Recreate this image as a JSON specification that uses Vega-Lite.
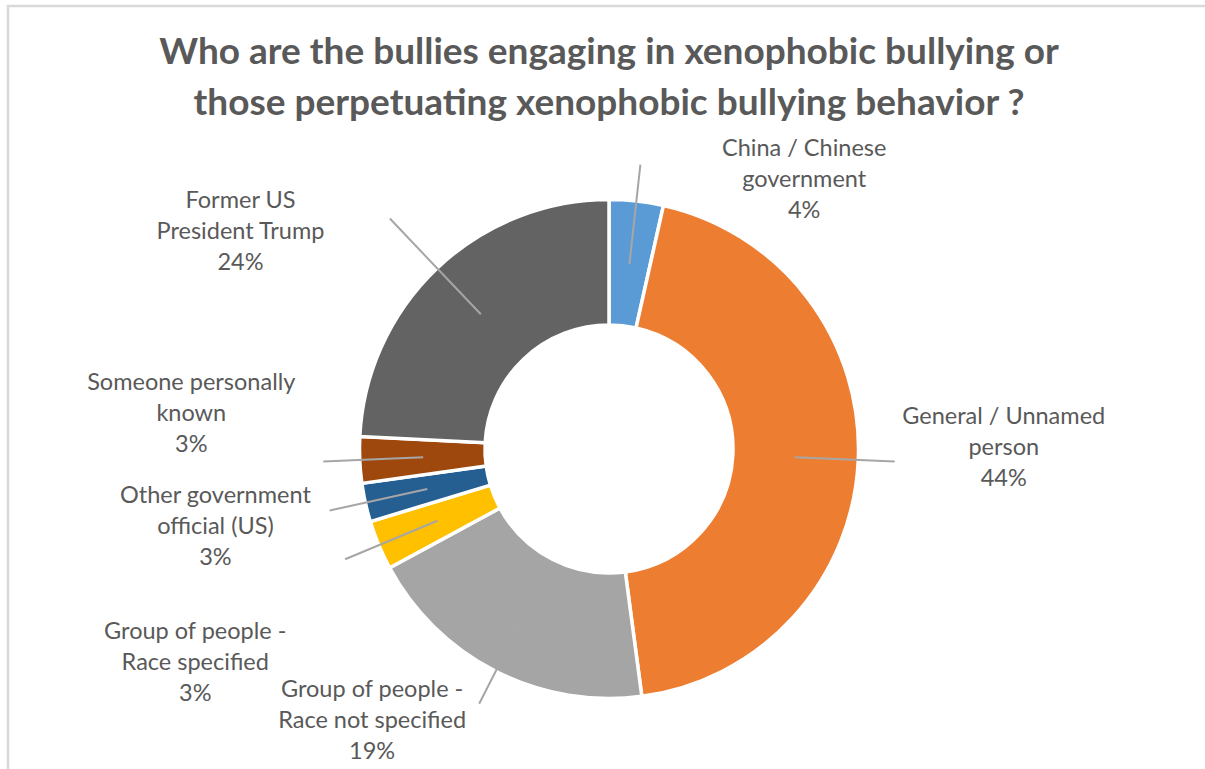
{
  "$schema": "https://vega.github.io/schema/vega-lite/v6.json",
  "autosize": {"type": "none"},
  "padding": {"left": 8, "top": 6, "right": -5, "bottom": -123},
  "width": 1202,
  "height": 886,
  "background": "white",
  "view": {"stroke": "#D9D9D9", "strokeWidth": 2.5},
  "title": {
    "text": ["Who are the bullies engaging in xenophobic bullying or", "those perpetuating xenophobic bullying behavior ?"],
    "offset": -117,
    "anchor": "middle",
    "frame": "group",
    "font": "Lato",
    "fontSize": 37,
    "fontWeight": "bold",
    "color": "#595959",
    "lineHeight": 51
  },
  "data": {
    "values": [
      {"category": "China / Chinese government", "order": 1, "value": 3.5, "label": "China / Chinese\ngovernment\n4%"},
      {"category": "General / Unnamed person", "order": 2, "value": 44.4, "label": "General / Unnamed\nperson\n44%"},
      {"category": "Group of people - Race not specified", "order": 3, "value": 19.2, "label": "Group of people -\nRace not specified\n19%"},
      {"category": "Group of people - Race specified", "order": 4, "value": 3.2, "label": "Group of people -\nRace specified\n3%"},
      {"category": "Other government official (US)", "order": 5, "value": 2.5, "label": "Other government\nofficial (US)\n3%"},
      {"category": "Someone personally known", "order": 6, "value": 3.0, "label": "Someone personally\nknown\n3%"},
      {"category": "Former US President Trump", "order": 7, "value": 24.2, "label": "Former US\nPresident Trump\n24%"}
    ]
  },
  "transform": [
    {"stack": "value", "groupby": [], "sort": [{"field": "order", "order": "ascending"}], "as": ["s0", "s1"]},
    {"calculate": "(datum.s0 + datum.s1) / 2", "as": "mid"}
  ],
  "layer": [
    {
      "mark": {"type": "arc", "radius": 249.5, "radius2": 124, "stroke": "white", "strokeWidth": 3.5},
      "encoding": {
        "theta": {"field": "s0", "type": "quantitative", "scale": {"domain": [0, 100]}},
        "theta2": {"field": "s1"},
        "color": {
          "field": "category",
          "type": "nominal",
          "legend": null,
          "scale": {
            "domain": ["China / Chinese government", "General / Unnamed person", "Group of people - Race not specified", "Group of people - Race specified", "Other government official (US)", "Someone personally known", "Former US President Trump"],
            "range": ["#5B9BD5", "#ED7D31", "#A5A5A5", "#FFC000", "#255E91", "#9E480E", "#636363"]
          }
        }
      }
    },
    {
      "transform": [{"filter": "datum.order != 7"}],
      "mark": {"type": "arc", "radius": 286, "radius2": 186, "filled": false, "stroke": "#A6A6A6", "strokeWidth": 2},
      "encoding": {
        "theta": {"field": "mid", "type": "quantitative", "scale": {"domain": [0, 100]}},
        "theta2": {"field": "mid"}
      }
    },
    {
      "transform": [{"filter": "datum.order == 7"}],
      "mark": {"type": "arc", "radius": 318, "radius2": 186, "filled": false, "stroke": "#A6A6A6", "strokeWidth": 2},
      "encoding": {
        "theta": {"field": "mid", "type": "quantitative", "scale": {"domain": [0, 100]}},
        "theta2": {"field": "mid"}
      }
    },
    {
      "transform": [{"filter": "datum.order == 1"}],
      "mark": {"type": "text", "radius": 275, "dx": 165, "dy": -27, "font": "Lato", "fontSize": 23.5, "color": "#595959", "lineBreak": "\n", "lineHeight": 31, "align": "center", "baseline": "middle"},
      "encoding": {"theta": {"field": "mid", "type": "quantitative", "scale": {"domain": [0, 100]}}, "text": {"field": "label"}}
    },
    {
      "transform": [{"filter": "datum.order == 2"}],
      "mark": {"type": "text", "radius": 275, "dx": 120, "dy": -44, "font": "Lato", "fontSize": 23.5, "color": "#595959", "lineBreak": "\n", "lineHeight": 31, "align": "center", "baseline": "middle"},
      "encoding": {"theta": {"field": "mid", "type": "quantitative", "scale": {"domain": [0, 100]}}, "text": {"field": "label"}}
    },
    {
      "transform": [{"filter": "datum.order == 3"}],
      "mark": {"type": "text", "radius": 275, "dx": -112, "dy": -4, "font": "Lato", "fontSize": 23.5, "color": "#595959", "lineBreak": "\n", "lineHeight": 31, "align": "center", "baseline": "middle"},
      "encoding": {"theta": {"field": "mid", "type": "quantitative", "scale": {"domain": [0, 100]}}, "text": {"field": "label"}}
    },
    {
      "transform": [{"filter": "datum.order == 4"}],
      "mark": {"type": "text", "radius": 275, "dx": -160, "dy": 77, "font": "Lato", "fontSize": 23.5, "color": "#595959", "lineBreak": "\n", "lineHeight": 31, "align": "center", "baseline": "middle"},
      "encoding": {"theta": {"field": "mid", "type": "quantitative", "scale": {"domain": [0, 100]}}, "text": {"field": "label"}}
    },
    {
      "transform": [{"filter": "datum.order == 5"}],
      "mark": {"type": "text", "radius": 275, "dx": -125, "dy": -12, "font": "Lato", "fontSize": 23.5, "color": "#595959", "lineBreak": "\n", "lineHeight": 31, "align": "center", "baseline": "middle"},
      "encoding": {"theta": {"field": "mid", "type": "quantitative", "scale": {"domain": [0, 100]}}, "text": {"field": "label"}}
    },
    {
      "transform": [{"filter": "datum.order == 6"}],
      "mark": {"type": "text", "radius": 275, "dx": -143, "dy": -78, "font": "Lato", "fontSize": 23.5, "color": "#595959", "lineBreak": "\n", "lineHeight": 31, "align": "center", "baseline": "middle"},
      "encoding": {"theta": {"field": "mid", "type": "quantitative", "scale": {"domain": [0, 100]}}, "text": {"field": "label"}}
    },
    {
      "transform": [{"filter": "datum.order == 7"}],
      "mark": {"type": "text", "radius": 275, "dx": -179, "dy": -49, "font": "Lato", "fontSize": 23.5, "color": "#595959", "lineBreak": "\n", "lineHeight": 31, "align": "center", "baseline": "middle"},
      "encoding": {"theta": {"field": "mid", "type": "quantitative", "scale": {"domain": [0, 100]}}, "text": {"field": "label"}}
    }
  ]
}
